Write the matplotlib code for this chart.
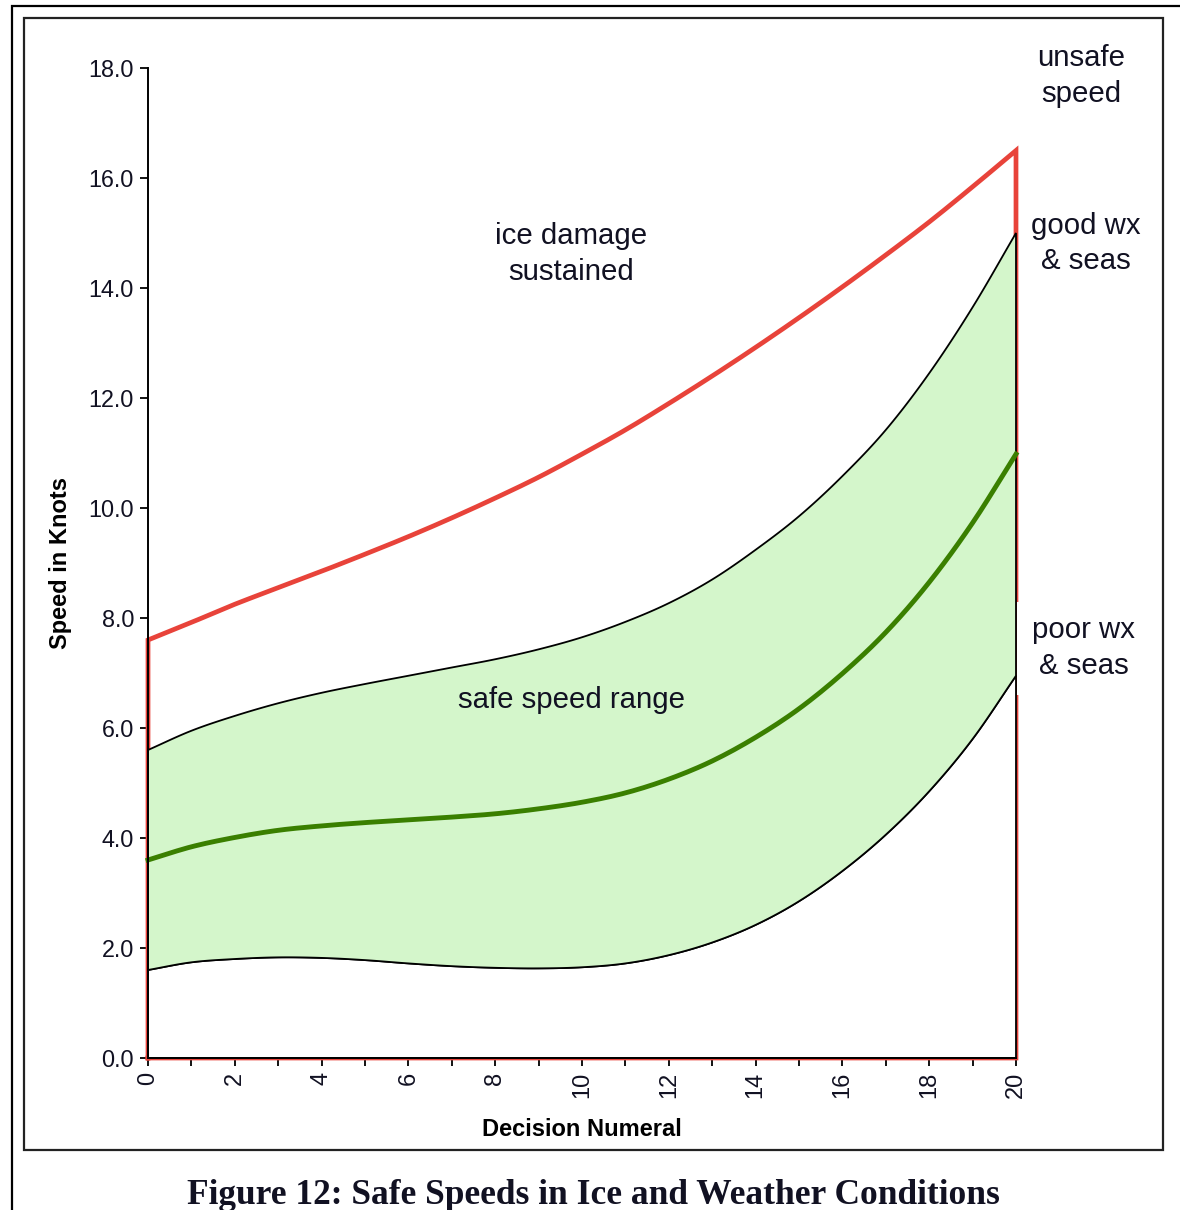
import numpy as np
import matplotlib
matplotlib.use("Agg")
import matplotlib.pyplot as plt
from matplotlib.patches import Rectangle

# ---- data ----
decision = list(range(0, 21))
unsafe_limit = [7.60, 7.92, 8.25, 8.55, 8.85, 9.16, 9.48, 9.82, 10.18, 10.56, 10.98,
                11.42, 11.90, 12.40, 12.92, 13.46, 14.02, 14.60, 15.20, 15.84, 16.50]
good_wx = [5.60, 5.95, 6.22, 6.45, 6.64, 6.80, 6.95, 7.10, 7.25, 7.43, 7.65,
           7.93, 8.27, 8.70, 9.24, 9.85, 10.58, 11.42, 12.45, 13.65, 15.00]
mid_speed = [3.60, 3.84, 4.01, 4.14, 4.22, 4.28, 4.33, 4.38, 4.44, 4.53, 4.65,
             4.82, 5.07, 5.40, 5.83, 6.35, 6.99, 7.74, 8.65, 9.73, 10.98]
poor_wx = [1.60, 1.74, 1.80, 1.83, 1.82, 1.78, 1.72, 1.67, 1.64, 1.63, 1.65,
           1.72, 1.87, 2.10, 2.42, 2.85, 3.40, 4.06, 4.85, 5.80, 6.95]

yticks = [0.0, 2.0, 4.0, 6.0, 8.0, 10.0, 12.0, 14.0, 16.0, 18.0]
xticks = list(range(0, 21, 2))


def smooth(x, y, n=12):
    """Catmull-Rom smoothing (similar to spreadsheet smoothed lines)."""
    x = np.asarray(x, float)
    y = np.asarray(y, float)
    px = np.concatenate([[2 * x[0] - x[1]], x, [2 * x[-1] - x[-2]]])
    py = np.concatenate([[2 * y[0] - y[1]], y, [2 * y[-1] - y[-2]]])
    xs, ys = [], []
    t = np.linspace(0, 1, n, endpoint=False)
    for i in range(1, len(px) - 2):
        for arr, out in ((px, xs), (py, ys)):
            p0, p1, p2, p3 = arr[i - 1], arr[i], arr[i + 1], arr[i + 2]
            out.extend(0.5 * ((2 * p1) + (-p0 + p2) * t
                              + (2 * p0 - 5 * p1 + 4 * p2 - p3) * t ** 2
                              + (-p0 + 3 * p1 - 3 * p2 + p3) * t ** 3))
    xs.append(x[-1]); ys.append(y[-1])
    return np.array(xs), np.array(ys)


W, H = 1180, 1210
fig = plt.figure(figsize=(W / 100, H / 100), dpi=100)
fig.patch.set_facecolor("white")

# frames
fig.add_artist(Rectangle((12 / W, 1 - 1230 / H), 1200 / W, 1224 / H, transform=fig.transFigure,
                         fill=False, edgecolor="black", linewidth=1.6))
fig.add_artist(Rectangle((24 / W, 1 - 1150 / H), (1163 - 24) / W, (1150 - 18) / H,
                         transform=fig.transFigure, fill=False, edgecolor="#222222", linewidth=1.6))

ax = fig.add_axes([148 / W, 1 - 1058 / H, (1016 - 148) / W, (1058 - 68) / H])
ax.set_xlim(0, 20)
ax.set_ylim(0, 18)

RED = "#e8433a"
GREEN_FILL = "#d4f6cb"
GREEN_LINE = "#3a7f00"

xr, yr = smooth(decision, unsafe_limit)
xg, yg = smooth(decision, good_wx)
xm, ym = smooth(decision, mid_speed)
xp, yp = smooth(decision, poor_wx)

x0, x1 = decision[0], decision[-1]

# unsafe limit outline (red)
ax.plot(np.concatenate([[x0], xr, [x1, x1, x0, x0]]),
        np.concatenate([[0], yr, [0, 0, 0, 0]]),
        color=RED, linewidth=3.4, solid_joinstyle="miter", clip_on=False, zorder=2)

# lower white area
ax.fill(np.concatenate([[x0], xp, [x1]]), np.concatenate([[0], yp, [0]]),
        facecolor="white", edgecolor="black", linewidth=1.3, zorder=3, clip_on=False)
# safe speed range (green band)
ax.fill(np.concatenate([xp, xg[::-1]]), np.concatenate([yp, yg[::-1]]),
        facecolor=GREEN_FILL, edgecolor="black", linewidth=1.3, zorder=3, clip_on=False)
# recommended speed
ax.plot(xm, ym, color=GREEN_LINE, linewidth=3.5, zorder=4, clip_on=False)

# axes styling
for s in ("top", "right"):
    ax.spines[s].set_visible(False)
for s in ("left", "bottom"):
    ax.spines[s].set_linewidth(1.4)
    ax.spines[s].set_zorder(5)
ax.set_yticks(yticks)
ax.set_yticklabels([f"{v:.1f}" for v in yticks])
ax.set_xticks(xticks)
ax.set_xticks(decision, minor=True)
ax.tick_params(axis="y", direction="out", length=6, width=1.3, labelsize=16.8, pad=4)
ax.tick_params(axis="x", which="both", direction="out", length=6, width=1.3,
               labelsize=17, labelrotation=90, pad=4)
for lab in ax.get_xticklabels() + ax.get_yticklabels():
    lab.set_family("Liberation Sans")
    lab.set_color("#111122")

ax.set_ylabel("Speed in Knots", fontsize=17, fontweight="bold", family="Liberation Sans")
ax.set_xlabel("Decision Numeral", fontsize=17, fontweight="bold", family="Liberation Sans")
ax.yaxis.set_label_coords(-0.088, 0.5)
ax.xaxis.set_label_coords(0.5, -0.061)

tk = dict(family="Liberation Sans", fontsize=21.2, color="#111122", ha="center",
          va="center", linespacing=1.35)
ax.text(9.75, 14.62, "ice damage\nsustained", **tk)
ax.text(9.75, 6.5, "safe speed range", zorder=6, **tk)
ax.text(21.5, 17.85, "unsafe\nspeed", clip_on=False, **tk)
ax.text(21.6, 14.81, "good wx\n& seas", clip_on=False, **tk)
ax.text(21.56, 7.45, "poor wx\n& seas", clip_on=False, zorder=10,
        bbox=dict(boxstyle="square,pad=0.5", facecolor="white", edgecolor="none"), **tk)

fig.text(593 / W, 1 - 1195 / H, "Figure 12: Safe Speeds in Ice and Weather Conditions",
         family="Liberation Serif", fontweight="bold", fontsize=25.5, ha="center", va="center",
         color="#111122")

fig.savefig("out.png", dpi=100, facecolor="white")
